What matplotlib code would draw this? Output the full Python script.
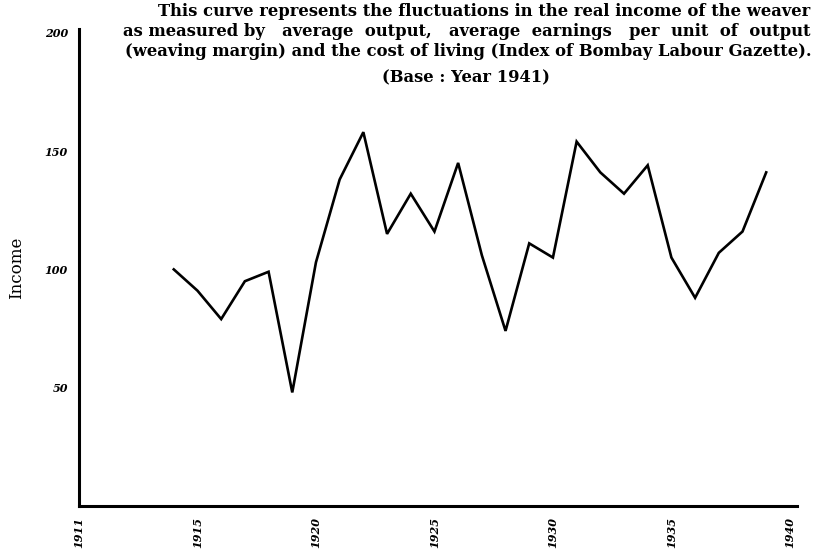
import matplotlib
matplotlib.use("Agg")
import matplotlib.pyplot as plt

years = [1914, 1915, 1916, 1917, 1918, 1919, 1920, 1921, 1922, 1923, 1924,
         1925, 1926, 1927, 1928, 1929, 1930, 1931, 1932, 1933, 1934, 1935,
         1936, 1937, 1938, 1939]
income = [100, 91, 79, 95, 99, 48, 103, 138, 158, 115, 132,
          116, 145, 106, 74, 111, 105, 154, 141, 132, 144, 105,
          88, 107, 116, 141]

xtick_pos = [1910, 1915, 1920, 1925, 1930, 1935, 1940]
xtick_labels = ["1911", "1915", "1920", "1925", "1930", "1935", "1940"]
ytick_pos = [50, 100, 150, 200]
ytick_labels = ["50", "100", "150", "200"]

title_lines = [
    "This curve represents the fluctuations in the real income of the weaver",
    "as measured by   average  output,   average  earnings   per  unit  of  output",
    "(weaving margin) and the cost of living (Index of Bombay Labour Gazette).",
]
subtitle = "(Base : Year 1941)"

fig = plt.figure(figsize=(8.21, 5.53), dpi=100)
ax = fig.add_axes([79/821, 47/553, 718/821, 477/553])

ax.plot(years, income, color="black", lw=1.9, solid_joinstyle="miter")

ax.set_xlim(1910, 1940.3)
ax.set_ylim(0, 201.6)

for s in ["top", "right"]:
    ax.spines[s].set_visible(False)
for s in ["left", "bottom"]:
    ax.spines[s].set_linewidth(2.2)

ax.set_xticks(xtick_pos)
ax.set_xticklabels(xtick_labels, rotation=90, fontsize=8, fontweight="bold",
                   fontstyle="italic", family="DejaVu Serif")
ax.set_yticks(ytick_pos)
ax.set_yticklabels(ytick_labels, fontsize=8, fontweight="bold",
                   fontstyle="italic", family="DejaVu Serif")
ax.tick_params(axis="both", length=0, pad=8)

ax.set_ylabel("Income", family="DejaVu Serif", fontsize=12, labelpad=14)

tkw = dict(family="DejaVu Serif", fontweight="bold", fontsize=11.8,
           va="center")
fig.text(810/821, 1 - 12/553, title_lines[0], ha="right", **tkw)
fig.text(810/821, 1 - 32/553, title_lines[1], ha="right", **tkw)
fig.text(812/821, 1 - 52/553, title_lines[2], ha="right", **tkw)
fig.text(466/821, 1 - 78/553, subtitle, ha="center", **tkw)

fig.savefig("out.png", dpi=100)
